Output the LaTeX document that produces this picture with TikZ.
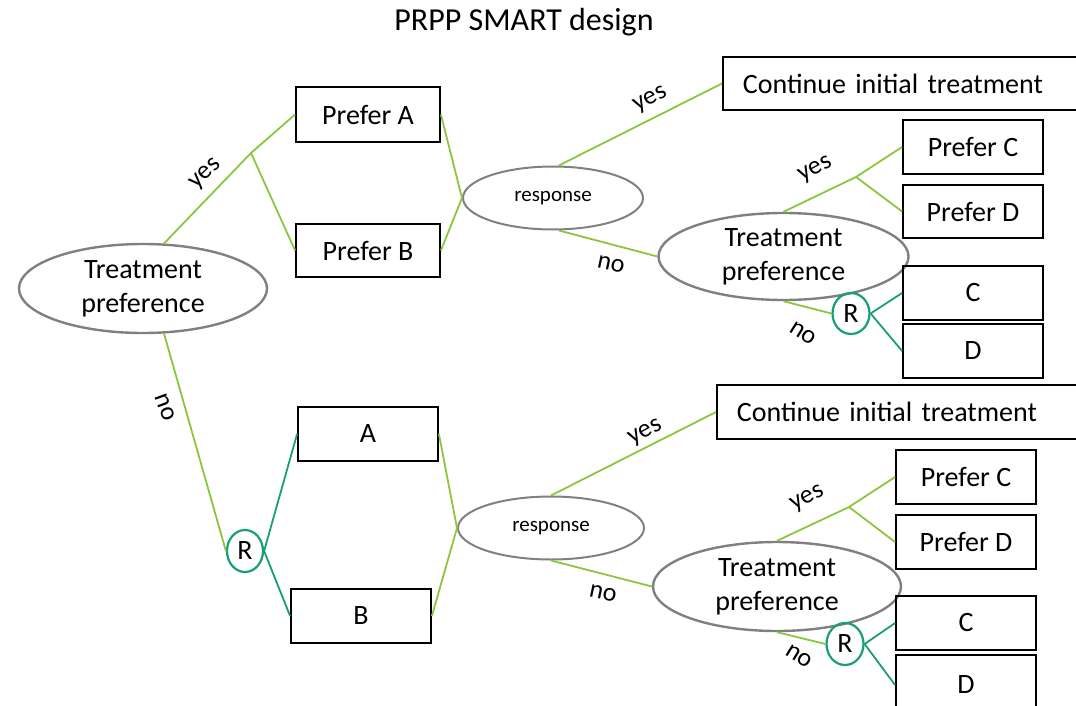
\documentclass[tikz,border=0pt]{standalone}
\usepackage{fontspec}
\setmainfont{Carlito}
\usetikzlibrary{shapes.geometric}
\definecolor{lgreen}{RGB}{140,198,63}
\definecolor{teal2}{RGB}{26,158,120}
\definecolor{ellgray}{RGB}{128,128,128}
\tikzset{
  box/.style={draw=black, line width=1.8pt, rectangle, inner sep=0pt, font=\fontsize{28}{34}\selectfont},
  contbox/.style={box, anchor=west, inner xsep=20pt, text width=340pt, align=left},
  pref/.style={draw=ellgray, line width=2.4pt, ellipse, inner sep=0pt, align=center, font=\fontsize{28}{34}\selectfont},
  resp/.style={draw=ellgray, line width=2pt, ellipse, inner sep=0pt, font=\fontsize{21}{25}\selectfont},
  rnode/.style={draw=teal2, line width=2.2pt, ellipse, inner sep=0pt, font=\fontsize{28}{34}\selectfont},
  gl/.style={draw=lgreen, line width=1.8pt},
  tl/.style={draw=teal2, line width=1.8pt},
  lab/.style={font=\fontsize{26}{30}\selectfont, inner sep=0pt},
}
\begin{document}
\begin{tikzpicture}[x=1pt,y=-1pt]
\useasboundingbox (0,0) rectangle (1076,706);
\begin{scope}
\clip (0,0) rectangle (1076,706);
\node[font=\fontsize{32}{36}\selectfont] (title) at (524,22) {PRPP SMART design};

% top branch
\node[pref, minimum width=248pt, minimum height=89pt] (tp1) at (143,288.5) {\raisebox{-3pt}{Treatment}\\\raisebox{-3pt}{preference}};
\node[box, minimum width=144pt, minimum height=55pt] (pA) at (368,114.5) {Prefer A};
\node[box, minimum width=144pt, minimum height=53pt] (pB) at (368,250.5) {Prefer B};
\node[resp, minimum width=180pt, minimum height=63pt] (resp1) at (553,198) {\raisebox{-2pt}{response}};
\node[contbox, minimum height=53pt] (cont1) at (722,83.5) {Continue initial treatment};
\node[pref, minimum width=250pt, minimum height=87pt] (tp2) at (783.5,256.5) {\raisebox{-3pt}{Treatment}\\\raisebox{-3pt}{preference}};
\node[box, minimum width=140pt, minimum height=54pt] (pC) at (973,147) {Prefer C};
\node[box, minimum width=140pt, minimum height=53pt] (pD) at (973,211.5) {Prefer D};
\node[box, minimum width=140pt, minimum height=54pt] (C) at (973,293) {C};
\node[box, minimum width=140pt, minimum height=54pt] (D) at (973,351) {D};
\node[rnode, minimum width=37pt, minimum height=41pt] (Rtop) at (851,313.5) {R};

% bottom branch
\node[rnode, minimum width=36pt, minimum height=42pt] (R1) at (245,551) {R};
\node[box, minimum width=140pt, minimum height=54pt] (A) at (368,434) {A};
\node[box, minimum width=140pt, minimum height=54pt] (B) at (361,616) {B};
\node[resp, minimum width=186pt, minimum height=63pt] (resp2) at (551,528) {\raisebox{-2pt}{response}};
\node[contbox, minimum height=54pt] (cont2) at (716,412) {Continue initial treatment};
\node[pref, minimum width=248pt, minimum height=89pt] (tp3) at (777,586.5) {\raisebox{-3pt}{Treatment}\\\raisebox{-3pt}{preference}};
\node[box, minimum width=140pt, minimum height=54pt] (pC2) at (966,477) {Prefer C};
\node[box, minimum width=140pt, minimum height=54pt] (pD2) at (966,542) {Prefer D};
\node[box, minimum width=140pt, minimum height=54pt] (C2) at (966,623) {C};
\node[box, minimum width=140pt, minimum height=60pt] (D2) at (966,685) {D};
\node[rnode, minimum width=37pt, minimum height=42pt] (R2) at (845,644) {R};

% branch points
\coordinate (b1) at (251,153);
\coordinate (b2) at (856,177);
\coordinate (b3) at (849,507);

% connectors top
\draw[gl] (tp1.65) -- (b1) -- (pA.west);
\draw[gl] (b1) -- (pB.west);
\draw[gl] (pA.east) -- (resp1.west);
\draw[gl] (pB.east) -- (resp1.west);
\draw[gl] (resp1.80) -- (cont1.west);
\draw[gl] (resp1.-80) -- (tp2.west);
\draw[gl] (tp2.north) -- (b2) -- (pC.west);
\draw[gl] (b2) -- (pD.west);
\draw[gl] (tp2.south) -- (Rtop.west);
\draw[tl] (Rtop.east) -- (C.west);
\draw[tl] (Rtop.east) -- (D.west);

% connectors bottom
\draw[gl] (tp1.-65) -- (R1.west);
\draw[tl] (R1.east) -- (A.west);
\draw[tl] (R1.east) -- (B.west);
\draw[gl] (A.east) -- (resp2.west);
\draw[gl] (B.east) -- (resp2.west);
\draw[gl] (resp2.north) -- (cont2.west);
\draw[gl] (resp2.south) -- (tp3.west);
\draw[gl] (tp3.north) -- (b3) -- (pC2.west);
\draw[gl] (b3) -- (pD2.west);
\draw[gl] (tp3.south) -- (R2.west);
\draw[tl] (R2.east) -- (C2.west);
\draw[tl] (R2.east) -- (D2.west);

% labels
\node[lab, rotate=44] (y1) at (206,174) {yes};
\node[lab, rotate=-70] (n1) at (165,407) {no};
\node[lab, rotate=28] (y2) at (651,100) {yes};
\node[lab, rotate=-12] (n2) at (611,264) {no};
\node[lab, rotate=28] (y3) at (816,170) {yes};
\node[lab, rotate=-32] (n3) at (803,333) {no};
\node[lab, rotate=28] (y4) at (646,433) {yes};
\node[lab, rotate=-12] (n4) at (603,593) {no};
\node[lab, rotate=28] (y5) at (808,499) {yes};
\node[lab, rotate=-32] (n5) at (799,656) {no};
\end{scope}
\end{tikzpicture}
\end{document}
